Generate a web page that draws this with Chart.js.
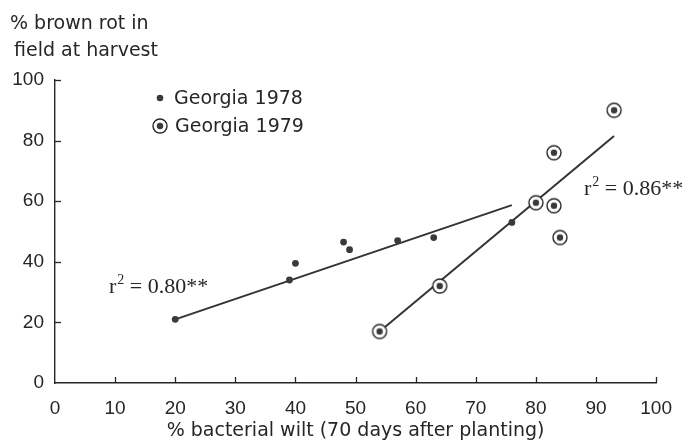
<!DOCTYPE html>
<html>
<head>
<meta charset="utf-8">
<script src="https://cdn.jsdelivr.net/npm/chart.js@4.4.1/dist/chart.umd.min.js"></script>
<style>
  html, body { margin: 0; padding: 0; background: #fff; }
</style>
</head>
<body>
<canvas id="myChart" width="686" height="442"></canvas>
<script>
// Georgia 1978 (small dots)
const wilt1978 = [20, 39, 40, 48, 49, 57, 63, 76];
const rot1978 = [21, 34, 39.5, 46.5, 44, 47, 48, 53];
// Georgia 1979 (ringed dots)
const wilt1979 = [54, 64, 80, 83, 83, 84, 93];
const rot1979 = [17, 32, 59.5, 58.5, 76, 48, 90];
// regression line end points as drawn
const fit1978x = [20, 76];
const fit1978y = [21, 58.7];
const fit1979x = [54, 93];
const fit1979y = [17, 81.5];

const xTicks = [0, 10, 20, 30, 40, 50, 60, 70, 80, 90, 100];
const yTicks = [0, 20, 40, 60, 80, 100];

const ink = '#262626';
const sans = '"DejaVu Sans", sans-serif';

function ringMarker() {
  const c = document.createElement('canvas');
  c.width = 18; c.height = 18;
  const g = c.getContext('2d');
  g.beginPath(); g.arc(9, 9, 7, 0, Math.PI * 2);
  g.fillStyle = '#fff'; g.fill();
  g.lineWidth = 1.4; g.strokeStyle = ink; g.stroke();
  g.beginPath(); g.arc(9, 9, 3.2, 0, Math.PI * 2);
  g.fillStyle = '#3a3a3a'; g.fill();
  return c;
}
const ring = ringMarker();

const toPoints = (xs, ys) => xs.map((x, i) => ({ x: x, y: ys[i] }));

function rSquared(ctx, x, y, value) {
  ctx.font = '22px "Liberation Serif", serif';
  ctx.fillText('r', x, y);
  let w = ctx.measureText('r').width;
  ctx.font = '14px "Liberation Serif", serif';
  ctx.fillText('2', x + w + 1, y - 9);
  w += ctx.measureText('2').width + 1;
  ctx.font = '22px "Liberation Serif", serif';
  ctx.fillText(' = ' + value + '**', x + w, y);
}

const extras = {
  id: 'extras',
  afterDraw(chart) {
    const ctx = chart.ctx;
    const xs = chart.scales.x, ys = chart.scales.y;
    const bottom = chart.chartArea.bottom, left = chart.chartArea.left;
    ctx.save();
    ctx.strokeStyle = ink;
    ctx.lineWidth = 1.3;
    // inward tick marks
    xTicks.slice(1).forEach(v => {
      const px = Math.round(xs.getPixelForValue(v)) + 0.5;
      ctx.beginPath(); ctx.moveTo(px, bottom); ctx.lineTo(px, bottom - 6); ctx.stroke();
    });
    yTicks.slice(1).forEach(v => {
      const py = Math.round(ys.getPixelForValue(v)) + 0.5;
      ctx.beginPath(); ctx.moveTo(left, py); ctx.lineTo(left + 6, py); ctx.stroke();
    });

    ctx.fillStyle = ink;
    ctx.textBaseline = 'alphabetic';
    ctx.textAlign = 'left';
    // y axis title
    ctx.font = '19px ' + sans;
    ctx.fillText('% brown rot in', 10, 29);
    ctx.fillText('field at harvest', 14, 56);
    // x axis title
    ctx.textAlign = 'center';
    ctx.fillText('% bacterial wilt (70 days after planting)', (xs.left + xs.right) / 2, 436);

    // legend
    ctx.textAlign = 'left';
    ctx.textBaseline = 'middle';
    ctx.beginPath(); ctx.arc(160, 98, 3.3, 0, Math.PI * 2);
    ctx.fillStyle = '#3a3a3a'; ctx.fill();
    ctx.drawImage(ring, 160 - 9, 126 - 9);
    ctx.fillStyle = ink;
    ctx.fillText('Georgia 1978', 174, 99);
    ctx.fillText('Georgia 1979', 175, 127);

    // r-squared notes
    ctx.textBaseline = 'alphabetic';
    rSquared(ctx, 109, 293, '0.80');
    rSquared(ctx, 584, 195, '0.86');
    ctx.restore();
  }
};

const ctx = document.getElementById('myChart').getContext('2d');
new Chart(ctx, {
  type: 'scatter',
  data: {
    datasets: [
      {
        label: 'Georgia 1978',
        data: toPoints(wilt1978, rot1978),
        pointRadius: 3.4,
        pointBackgroundColor: '#3a3a3a',
        pointBorderWidth: 0,
        order: 1
      },
      {
        label: 'Georgia 1979',
        data: toPoints(wilt1979, rot1979),
        pointStyle: ring,
        order: 0
      },
      {
        type: 'line',
        data: toPoints(fit1978x, fit1978y),
        borderColor: '#333',
        borderWidth: 2,
        pointRadius: 0,
        fill: false,
        order: 3
      },
      {
        type: 'line',
        data: toPoints(fit1979x, fit1979y),
        borderColor: '#333',
        borderWidth: 2,
        pointRadius: 0,
        fill: false,
        order: 3
      }
    ]
  },
  options: {
    responsive: false,
    animation: false,
    layout: { padding: { top: 80, right: 27, left: 0, bottom: 0 } },
    plugins: {
      legend: { display: false },
      tooltip: { enabled: false }
    },
    scales: {
      x: {
        type: 'linear',
        min: 0,
        max: 100,
        afterBuildTicks: s => { s.ticks = xTicks.map(v => ({ value: v })); },
        afterFit: s => { s.height = 59; },
        grid: { display: false, drawTicks: false },
        border: { display: true, color: ink, width: 1.4 },
        ticks: {
          padding: 14,
          maxRotation: 0,
          autoSkip: false,
          color: ink,
          font: { family: '"Liberation Sans", Arial, sans-serif', size: 19 }
        }
      },
      y: {
        type: 'linear',
        min: 0,
        max: 100,
        afterBuildTicks: s => { s.ticks = yTicks.map(v => ({ value: v })); },
        afterFit: s => { s.width = 55; },
        grid: { display: false, drawTicks: false },
        border: { display: true, color: ink, width: 1.4 },
        ticks: {
          padding: 11,
          color: ink,
          font: { family: '"Liberation Sans", Arial, sans-serif', size: 19 }
        }
      }
    }
  },
  plugins: [extras]
});
</script>
</body>
</html>
